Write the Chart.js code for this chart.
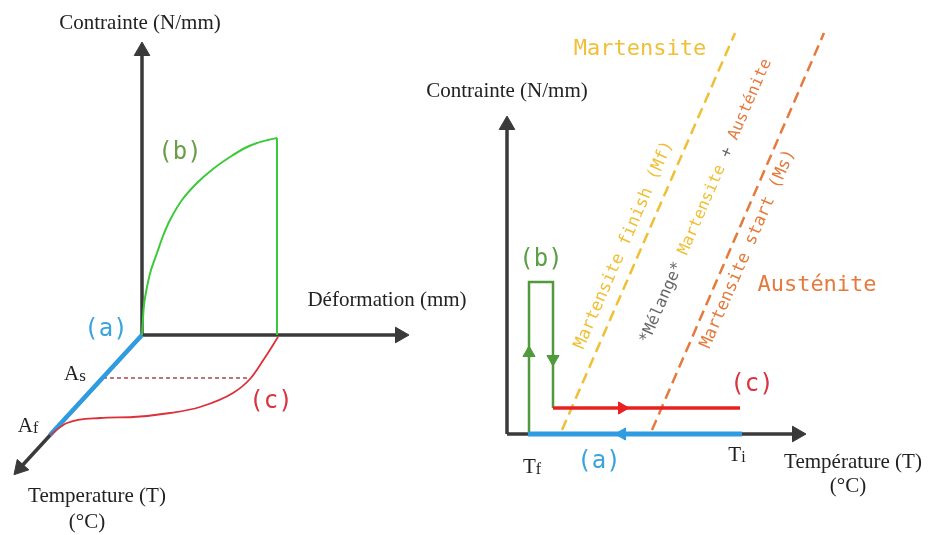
<!DOCTYPE html>
<html>
<head>
<meta charset="utf-8">
<script src="https://cdn.jsdelivr.net/npm/chart.js@4.4.1/dist/chart.umd.min.js"></script>
<style>
  body { margin: 0; background: #fff; }
  #wrap { width: 928px; height: 535px; }
</style>
</head>
<body>
<div id="wrap"><canvas id="myChart" width="928" height="535"></canvas></div>
<script>
// diagram units, y pointing up

// left panel : contrainte / deformation / temperature
var leftStressAxis = [{x: 142, y: 200}, {x: 142, y: 484}];
var leftStrainAxis = [{x: 142, y: 200}, {x: 400, y: 200}];
var leftTempAxis = [{x: 142, y: 200}, {x: 20, y: 67}];
var leftPathA = [{x: 142, y: 200}, {x: 50, y: 100}];
var leftPathB = [
  {x: 142, y: 200}, {x: 144, y: 230}, {x: 147, y: 248}, {x: 151, y: 265},
  {x: 157, y: 282}, {x: 163, y: 299}, {x: 170, y: 315}, {x: 182, y: 335},
  {x: 197, y: 352}, {x: 213, y: 366}, {x: 230, y: 378}, {x: 245, y: 387},
  {x: 257, y: 392}, {x: 268, y: 395}, {x: 277, y: 397}
];
var leftPathBDrop = [{x: 277, y: 397}, {x: 277, y: 200}];
var leftPathC = [
  {x: 50, y: 100}, {x: 67, y: 112}, {x: 100, y: 117}, {x: 133, y: 118},
  {x: 170, y: 122}, {x: 200, y: 128}, {x: 233, y: 142}, {x: 250, y: 156},
  {x: 264, y: 176}, {x: 278, y: 198}
];
var leftAsLevel = [{x: 103, y: 157}, {x: 250, y: 157}];

// right panel : contrainte / temperature
var rightStressAxis = [{x: 507, y: 101}, {x: 507, y: 410}];
var rightTempAxis = [{x: 507, y: 101}, {x: 797, y: 101}];
var rightPathA = [{x: 528, y: 101}, {x: 742, y: 101}];
var rightPathB = [{x: 529, y: 101}, {x: 529, y: 253}, {x: 553, y: 253}, {x: 553, y: 127}];
var rightPathC = [{x: 553, y: 127}, {x: 740, y: 127}];
var lineMf = [{x: 562, y: 105}, {x: 735, y: 502}];
var lineMs = [{x: 652, y: 105}, {x: 824, y: 502}];

// arrow heads (rotation in degrees, 0 = up)
var axisHeads = [
  {x: 142, y: 484, r: 0}, {x: 400, y: 200, r: 90}, {x: 20, y: 67, r: 222},
  {x: 507, y: 410, r: 0}, {x: 797, y: 101, r: 90}
];
var flowHeadsA = [{x: 622, y: 101, r: 270}];
var flowHeadsB = [{x: 529, y: 182, r: 0}, {x: 553, y: 176, r: 180}];
var flowHeadsC = [{x: 622, y: 127, r: 90}];

var serif = '21px "Liberation Serif"';
var mono = '24px "DejaVu Sans Mono"';
var mono2 = '22px "DejaVu Sans Mono"';
var monoSm = '16px "DejaVu Sans Mono"';
var yellow = '#f0bf35';
var orange = '#e57a3c';
var tilt = -66.5;

var labels = [
  {x: 140, y: 512, parts: [{t: 'Contrainte (N/mm)'}], font: serif, color: '#222'},
  {x: 387, y: 235, parts: [{t: 'Déformation (mm)'}], font: serif, color: '#222'},
  {x: 97, y: 39, parts: [{t: 'Temperature (T)'}], font: serif, color: '#222'},
  {x: 87, y: 13, parts: [{t: '(°C)'}], font: serif, color: '#222'},
  {x: 180, y: 382, parts: [{t: '(b)'}], font: mono, color: '#6a9e4a'},
  {x: 106, y: 205, parts: [{t: '(a)'}], font: mono, color: '#38a3df'},
  {x: 271, y: 133, parts: [{t: '(c)'}], font: mono, color: '#d8343e'},
  {x: 75, y: 161, parts: [{t: 'A'}, {t: 's', font: '17px "Liberation Serif"'}], font: serif, color: '#222'},
  {x: 28, y: 109, parts: [{t: 'A'}, {t: 'f', font: '16px "Liberation Serif"'}], font: serif, color: '#222'},

  {x: 507, y: 444, parts: [{t: 'Contrainte (N/mm)'}], font: serif, color: '#222'},
  {x: 640, y: 486, parts: [{t: 'Martensite'}], font: mono2, color: yellow},
  {x: 817, y: 250, parts: [{t: 'Austénite'}], font: mono2, color: orange},
  {x: 541, y: 275, parts: [{t: '(b)'}], font: mono, color: '#5a9f46'},
  {x: 752, y: 150, parts: [{t: '(c)'}], font: mono, color: '#d8343e'},
  {x: 599, y: 73, parts: [{t: '(a)'}], font: mono, color: '#38a3df'},
  {x: 532, y: 68, parts: [{t: 'T'}, {t: 'f', font: '16px "Liberation Serif"'}], font: serif, color: '#222'},
  {x: 737, y: 80, parts: [{t: 'T'}, {t: 'i', font: '16px "Liberation Serif"'}], font: serif, color: '#222'},
  {x: 853, y: 73, parts: [{t: 'Température (T)'}], font: serif, color: '#222'},
  {x: 848, y: 49, parts: [{t: '(°C)'}], font: serif, color: '#222'},
  {x: 624, y: 290, rot: tilt, parts: [{t: 'Martensite finish (Mf)'}], font: '17px "DejaVu Sans Mono"', color: yellow},
  {x: 706, y: 334, rot: tilt, parts: [
    {t: '*Mélange* ', color: '#666'}, {t: 'Martensite ', color: yellow},
    {t: '+ ', color: '#666'}, {t: 'Austénite', color: orange}
  ], font: monoSm, color: '#666'},
  {x: 748, y: 286, rot: tilt, parts: [{t: 'Martensite start (Ms)'}], font: '17px "DejaVu Sans Mono"', color: orange}
];

var textPlugin = {
  id: 'texts',
  afterDatasetsDraw: function(chart) {
    var c = chart.ctx, sx = chart.scales.x, sy = chart.scales.y;
    labels.forEach(function(l) {
      c.save();
      c.translate(sx.getPixelForValue(l.x), sy.getPixelForValue(l.y));
      if (l.rot) c.rotate(l.rot * Math.PI / 180);
      c.textBaseline = 'middle';
      c.textAlign = 'left';
      var total = 0;
      l.parts.forEach(function(p) {
        c.font = p.font || l.font;
        p.w = c.measureText(p.t).width;
        total += p.w;
      });
      var px = -total / 2;
      l.parts.forEach(function(p) {
        c.font = p.font || l.font;
        c.fillStyle = p.color || l.color;
        c.fillText(p.t, px, p.font ? 3 : 0);
        px += p.w;
      });
      c.restore();
    });
  }
};

function line(data, color, width, extra) {
  var d = {data: data, showLine: true, borderColor: color, borderWidth: width,
    pointRadius: 0, fill: false, borderCapStyle: 'butt'};
  for (var k in extra) d[k] = extra[k];
  return d;
}

function heads(list, color, size) {
  return {
    data: list.map(function(p) { return {x: p.x, y: p.y}; }),
    showLine: false, pointStyle: 'triangle', pointRadius: size,
    pointRotation: list.map(function(p) { return p.r; }),
    backgroundColor: color, borderColor: color, borderWidth: 1
  };
}

// listed bottom layer first; reversed because Chart.js paints dataset 0 last
var layers = [
  line(lineMf, yellow, 2.5, {borderDash: [11, 6]}),
  line(lineMs, orange, 2.5, {borderDash: [11, 6]}),
  line(leftStressAxis, '#3a3a3a', 3.5),
  line(leftStrainAxis, '#3a3a3a', 3.5),
  line(leftTempAxis, '#3a3a3a', 3.5),
  line(rightStressAxis, '#3a3a3a', 3.5),
  line(rightTempAxis, '#3a3a3a', 3.5),
  heads(axisHeads, '#3a3a3a', 9),
  line(leftAsLevel, '#a8484c', 1.5, {borderDash: [4, 3]}),
  line(leftPathA, '#2f9be0', 4.5),
  line(leftPathB, '#3cc93c', 2, {tension: 0.3}),
  line(leftPathBDrop, '#3cc93c', 2),
  line(leftPathC, '#dd2f38', 1.8, {cubicInterpolationMode: 'monotone'}),
  line(rightPathB, '#4f9a3a', 2.5),
  line(rightPathC, '#e8201f', 3.5),
  line(rightPathA, '#2f9be0', 5),
  heads(flowHeadsA, '#2f9be0', 7),
  heads(flowHeadsB, '#4f9a3a', 7),
  heads(flowHeadsC, '#e8201f', 7)
];

var ctx = document.getElementById('myChart');
var myChart = new Chart(ctx, {
  type: 'scatter',
  data: { datasets: layers.reverse() },
  options: {
    responsive: false,
    animation: false,
    layout: {padding: 0, autoPadding: false},
    plugins: {legend: {display: false}, tooltip: {enabled: false}},
    scales: {
      x: {type: 'linear', min: 0, max: 928, display: false},
      y: {type: 'linear', min: 0, max: 535, display: false}
    }
  },
  plugins: [textPlugin]
});
</script>
</body>
</html>
